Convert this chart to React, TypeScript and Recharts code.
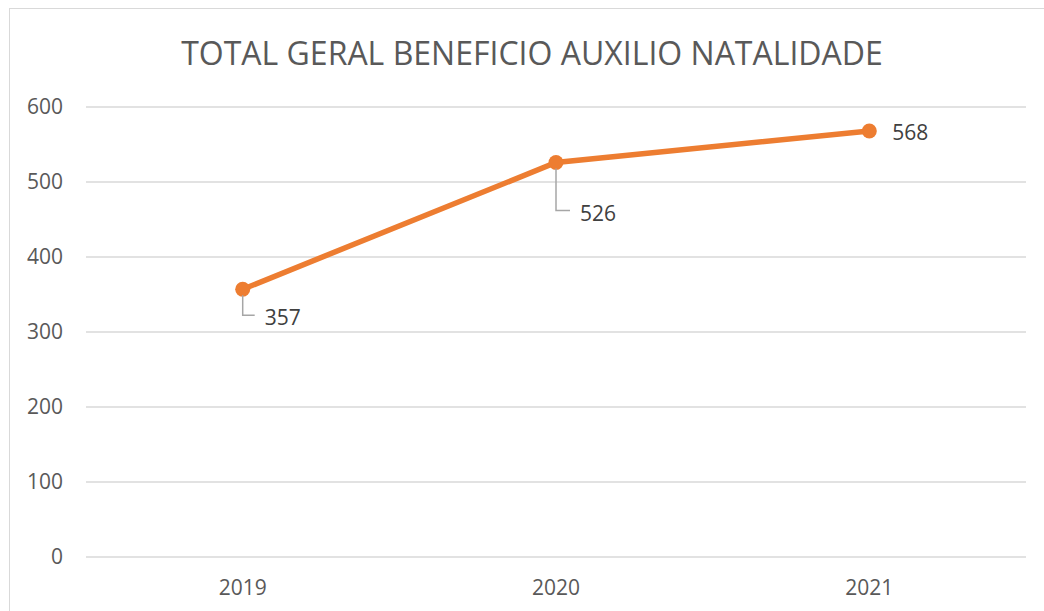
import { LineChart, Line, XAxis, YAxis, CartesianGrid, LabelList } from "recharts";

const years = ["2019", "2020", "2021"];
const totals = [357, 526, 568];
const yTicks = [0, 100, 200, 300, 400, 500, 600];

const ORANGE = "#ED7D31";
const FONT = "'Open Sans', 'Noto Sans', sans-serif";

const chartData = years.map((year, i) => ({ year, total: totals[i] }));

// where Excel had the labels dragged to (dx, dy from the point); leader drawn when dy > 0
const labelOffsets = [
  { dx: 22, dy: 28 },
  { dx: 24, dy: 50 },
  { dx: 23, dy: 1 },
];

function PointLabel(props: any) {
  const { x, y, value, index } = props;
  const off = labelOffsets[index] ?? { dx: 20, dy: 0 };
  const tx = x + off.dx;
  const ty = y + off.dy;
  const leader = off.dy > 10;
  return (
    <g>
      {leader && (
        <polyline
          points={`${x},${y + 6} ${x},${ty - 2} ${tx - 10},${ty - 2}`}
          fill="none"
          stroke="#a6a6a6"
          strokeWidth={1.5}
        />
      )}
      <text x={tx} y={ty} dominantBaseline="central" fill="#404040" fontSize={21} fontFamily={FONT}>
        {value}
      </text>
    </g>
  );
}

export default function App() {
  return (
    <div
      style={{
        position: "absolute",
        left: 9,
        top: 8,
        width: 1035,
        height: 603,
        borderLeft: "1px solid #d9d9d9",
        borderTop: "1px solid #d9d9d9",
        boxSizing: "border-box",
        background: "#fff",
        overflow: "hidden",
      }}
    >
      <div
        style={{
          position: "absolute",
          left: 0,
          top: 23,
          width: 1044,
          textAlign: "center",
          fontFamily: FONT,
          fontSize: 32,
          color: "#595959",
          lineHeight: "42px",
          whiteSpace: "nowrap",
        }}
      >
        TOTAL GERAL BENEFICIO AUXILIO NATALIDADE
      </div>
      <LineChart
        width={1034}
        height={602}
        data={chartData}
        margin={{ top: 98, right: 18, bottom: 24, left: 16 }}
      >
        <CartesianGrid vertical={false} stroke="#d9d9d9" strokeWidth={1.5} />
        <XAxis
          dataKey="year"
          axisLine={false}
          tickLine={false}
          tickSize={0}
          tickMargin={23}
          height={30}
          padding={{ left: 156.7, right: 156.7 }}
          tick={{ fill: "#595959", fontSize: 21, fontFamily: FONT }}
        />
        <YAxis
          domain={[0, 600]}
          ticks={yTicks}
          axisLine={false}
          tickLine={false}
          tickSize={0}
          tickMargin={23}
          width={60}
          tick={{ fill: "#595959", fontSize: 21, fontFamily: FONT }}
        />
        <Line
          type="linear"
          dataKey="total"
          stroke={ORANGE}
          strokeWidth={5.5}
          dot={{ r: 7.5, fill: ORANGE, stroke: ORANGE, strokeWidth: 0 }}
          isAnimationActive={false}
        >
          <LabelList dataKey="total" content={PointLabel} />
        </Line>
      </LineChart>
    </div>
  );
}
